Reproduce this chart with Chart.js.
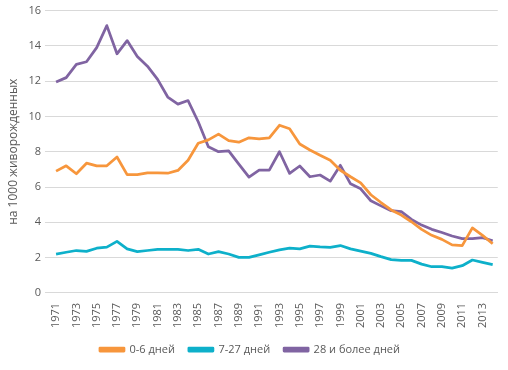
<!DOCTYPE html>
<html>
<head>
<meta charset="utf-8">
<script src="https://cdn.jsdelivr.net/npm/chart.js@4"></script>
<style>
  html, body { margin: 0; padding: 0; background: #fff; }
  #wrap { width: 508px; height: 370px; position: relative; }
</style>
</head>
<body>
<div id="wrap"><canvas id="chart"></canvas></div>
<script>
// years 1971..2014
const years = [];
for (let y = 1971; y <= 2014; y++) years.push(String(y));

// per 1000 live births
const early = [6.9, 7.2, 6.75, 7.35, 7.2, 7.2, 7.7, 6.7, 6.7, 6.8, 6.8, 6.78, 6.94, 7.52, 8.48, 8.67, 9.0, 8.63, 8.54, 8.79, 8.73, 8.79, 9.5, 9.3, 8.44, 8.1, 7.8, 7.52, 6.95, 6.58, 6.23, 5.56, 5.12, 4.7, 4.41, 4.03, 3.6, 3.26, 3.03, 2.72, 2.68, 3.68, 3.26, 2.78];
const late = [2.2, 2.3, 2.4, 2.35, 2.53, 2.59, 2.92, 2.49, 2.34, 2.4, 2.46, 2.46, 2.46, 2.4, 2.47, 2.2, 2.34, 2.2, 2.01, 2.01, 2.15, 2.3, 2.44, 2.53, 2.49, 2.65, 2.6, 2.58, 2.68, 2.49, 2.36, 2.24, 2.05, 1.88, 1.84, 1.84, 1.63, 1.48, 1.48, 1.4, 1.54, 1.86, 1.73, 1.6];
const post = [11.95, 12.2, 12.95, 13.1, 13.9, 15.15, 13.55, 14.3, 13.4, 12.85, 12.1, 11.1, 10.7, 10.9, 9.7, 8.28, 8.0, 8.05, 7.3, 6.56, 6.96, 6.96, 8.0, 6.77, 7.19, 6.58, 6.68, 6.33, 7.23, 6.18, 5.9, 5.22, 4.93, 4.66, 4.6, 4.16, 3.84, 3.6, 3.42, 3.22, 3.07, 3.07, 3.13, 2.95];

const yTicks = [0, 2, 4, 6, 8, 10, 12, 14, 16];

const txt = '#595959';
const font = { family: '"Open Sans", "Liberation Sans", sans-serif', size: 11 };

const mk = (label, data, color) => ({
  label: label,
  data: data,
  borderColor: color,
  backgroundColor: color,
  borderWidth: 2.75,
  pointRadius: 0,
  tension: 0,
  borderJoinStyle: 'round'
});

new Chart(document.getElementById('chart'), {
  type: 'line',
  data: {
    labels: years,
    datasets: [
      mk('0-6 дней', early, '#F7963C'),
      mk('7-27 дней', late, '#0DB0CA'),
      mk('28 и более дней', post, '#8064A2')
    ]
  },
  options: {
    responsive: true,
    maintainAspectRatio: false,
    animation: false,
    layout: { padding: { left: 2, right: 10, top: 8, bottom: 5 } },
    plugins: {
      legend: {
        position: 'bottom',
        labels: {
          color: txt,
          font: font,
          boxWidth: 24,
          boxHeight: 3,
          padding: 14
        }
      },
      tooltip: { enabled: false }
    },
    scales: {
      x: {
        offset: true,
        grid: { display: false },
        border: { color: '#D9D9D9' },
        ticks: {
          color: txt,
          font: font,
          autoSkip: false,
          minRotation: 90,
          maxRotation: 90,
          padding: 2,
          callback: function(value, index) {
            return index % 2 === 0 ? years[index] : '';
          }
        }
      },
      y: {
        min: 0,
        max: 16,
        afterBuildTicks: function(axis) {
          axis.ticks = yTicks.map(v => ({ value: v }));
        },
        grid: { color: '#D9D9D9', tickLength: 6 },
        border: { display: false },
        ticks: { color: txt, font: font, padding: 4 },
        title: {
          display: true,
          text: 'на 1000 живорожденных',
          color: txt,
          font: { family: font.family, size: 12 },
          padding: 4
        }
      }
    }
  }
});
</script>
</body>
</html>
